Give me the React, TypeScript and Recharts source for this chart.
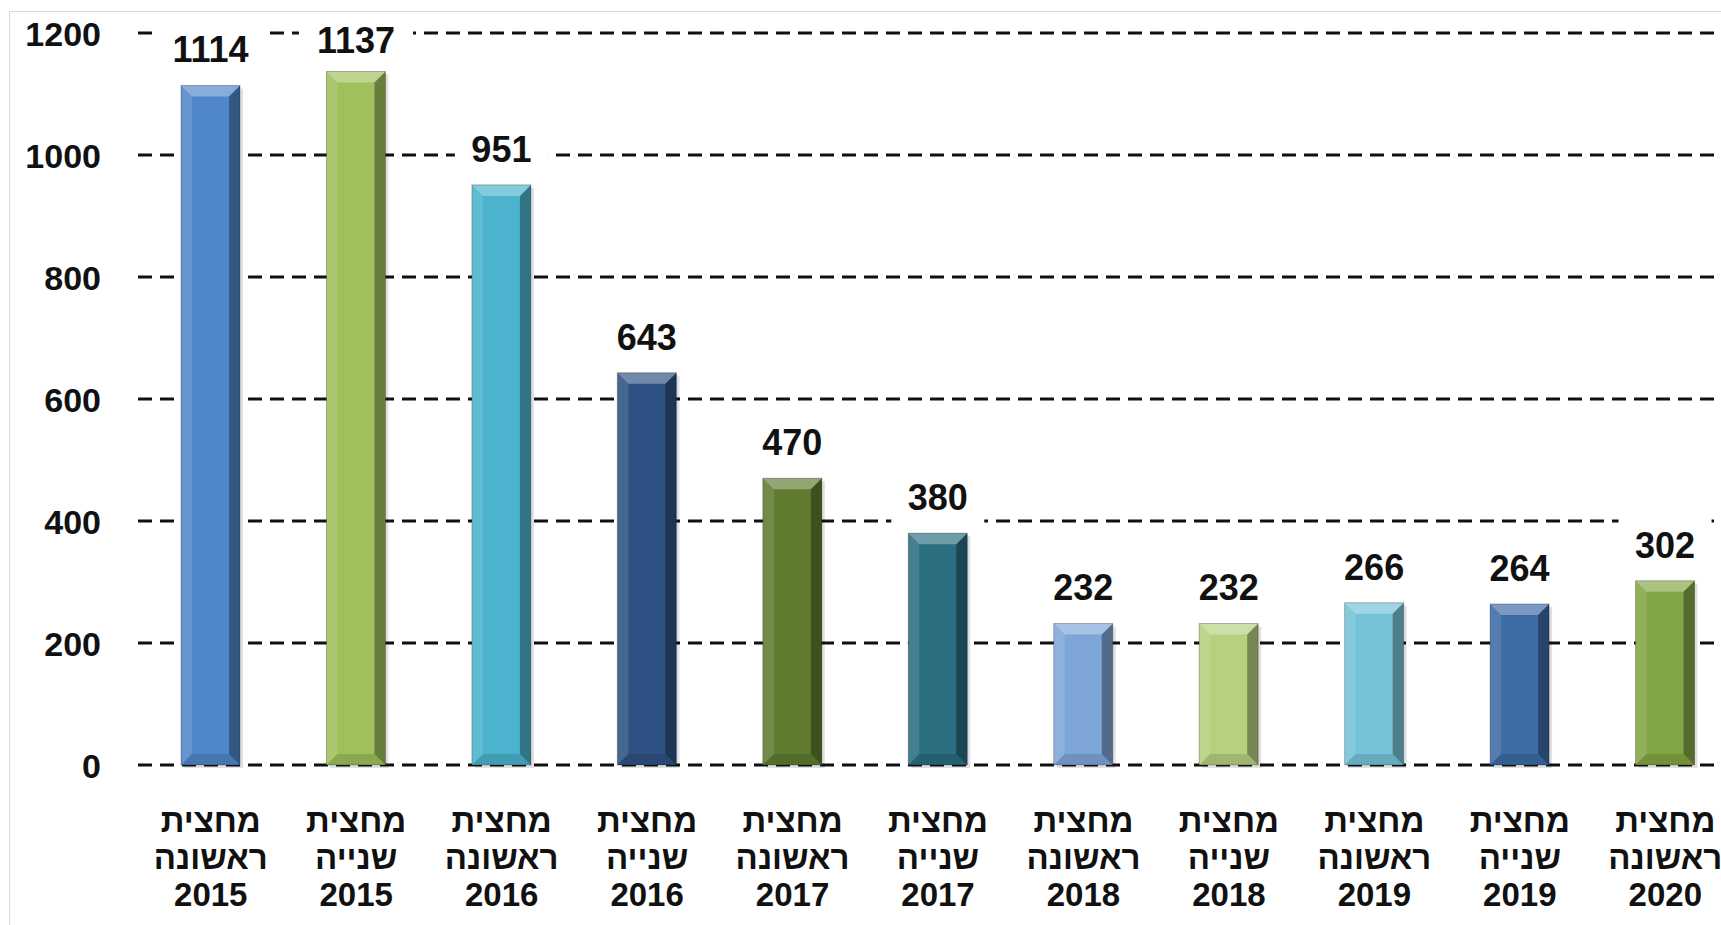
import React from 'react'
import { BarChart, Bar, XAxis, YAxis, CartesianGrid, Cell, LabelList } from 'recharts'

const halves = ['ראשונה', 'שנייה', 'ראשונה', 'שנייה', 'ראשונה', 'שנייה', 'ראשונה', 'שנייה', 'ראשונה', 'שנייה', 'ראשונה']
const years = ['2015', '2015', '2016', '2016', '2017', '2017', '2018', '2018', '2019', '2019', '2020']
const values = [1114, 1137, 951, 643, 470, 380, 232, 232, 266, 264, 302]
const yTicks = [0, 200, 400, 600, 800, 1000, 1200]

const barColors = [
  '#5087c8', '#9fc05c', '#4bb3cd', '#2e5283', '#5f7c31', '#2a6e80',
  '#7ea5d8', '#b5d07f', '#74c3d8', '#3d6ba4', '#83a644',
]

const data = values.map((v, i) => ({
  name: `מחצית ${halves[i]} ${years[i]}`,
  value: v,
}))

const FONT = '"Liberation Sans", Arial, sans-serif'

function BevelBar(props: any) {
  const { x, y, width: w, height: h, fill } = props
  if (!h || h <= 0) return null
  const b = Math.min(11, h / 2)
  return (
    <g>
      <rect x={x + 3} y={y + 3} width={w} height={h} fill="#000" opacity={0.12} />
      <rect x={x} y={y} width={w} height={h} fill={fill} />
      {/* left highlight */}
      <polygon points={`${x},${y} ${x + b},${y + b} ${x + b},${y + h - b} ${x},${y + h}`} fill="#fff" opacity={0.12} />
      {/* right shade */}
      <polygon points={`${x + w},${y} ${x + w - b},${y + b} ${x + w - b},${y + h - b} ${x + w},${y + h}`} fill="#000" opacity={0.35} />
      {/* top bevel */}
      <polygon points={`${x},${y} ${x + w},${y} ${x + w - b},${y + b} ${x + b},${y + b}`} fill="#fff" opacity={0.32} />
      {/* bottom bevel */}
      <polygon points={`${x},${y + h} ${x + w},${y + h} ${x + w - b},${y + h - b} ${x + b},${y + h - b}`} fill="#000" opacity={0.12} />
      <rect x={x} y={y} width={w} height={h} fill="none" stroke="#000" strokeOpacity={0.25} strokeWidth={1} />
    </g>
  )
}

function ValueLabel(props: any) {
  const { x, y, width, value } = props
  const cx = x + width / 2
  const tw = String(value).length * 21 + 30
  // labels near the top get pushed down to stay inside the chart, like Excel does
  const base = Math.max(y - 23, 53)
  return (
    <g>
      <rect x={cx - tw / 2} y={base - 39} width={tw} height={54} fill="#fff" />
      <text x={cx} y={base} textAnchor="middle" fontFamily={FONT} fontWeight="bold" fontSize={36} fill="#111">
        {value}
      </text>
    </g>
  )
}

function XTick(props: any) {
  const { x, y, payload } = props
  const parts = String(payload.value).split(' ')
  return (
    <g transform={`translate(${x},${y})`}>
      {parts.map((p, i) => (
        <text key={i} x={0} y={67 + i * 37} textAnchor="middle" fontFamily={FONT} fontWeight="bold" fontSize={33} fill="#111">
          {p}
        </text>
      ))}
    </g>
  )
}

function YTick(props: any) {
  const { x, y, payload } = props
  return (
    <text x={x - 37} y={y + 13} textAnchor="end" fontFamily={FONT} fontWeight="bold" fontSize={34} fill="#111">
      {payload.value}
    </text>
  )
}

export default function App() {
  return (
    <div style={{ position: 'fixed', left: 0, top: 0, width: 1721, height: 925, overflow: 'hidden', background: '#fff' }}>
      <div style={{ position: 'absolute', left: 0, top: 0 }}>
        <BarChart width={1760} height={925} data={data} margin={{ top: 33, right: 22, left: 0, bottom: 0 }} barSize={59}>
          <CartesianGrid horizontal vertical={false} stroke="#111" strokeWidth={3} strokeDasharray="14 8" />
          <XAxis dataKey="name" height={160} interval={0} tickLine={false} axisLine={false} tickSize={0} tickMargin={0} tick={<XTick />} />
          <YAxis width={138} domain={[0, 1200]} ticks={yTicks} tickLine={false} axisLine={false} tickSize={0} tickMargin={0} tick={<YTick />} />
          <Bar dataKey="value" shape={<BevelBar />} isAnimationActive={false}>
            {values.map((_, i) => (
              <Cell key={i} fill={barColors[i]} />
            ))}
            <LabelList dataKey="value" content={<ValueLabel />} />
          </Bar>
        </BarChart>
      </div>
      <div style={{ position: 'absolute', left: 9, top: 11, width: 1800, height: 1000, border: '1px solid #d9d9d9', pointerEvents: 'none' }} />
    </div>
  )
}
